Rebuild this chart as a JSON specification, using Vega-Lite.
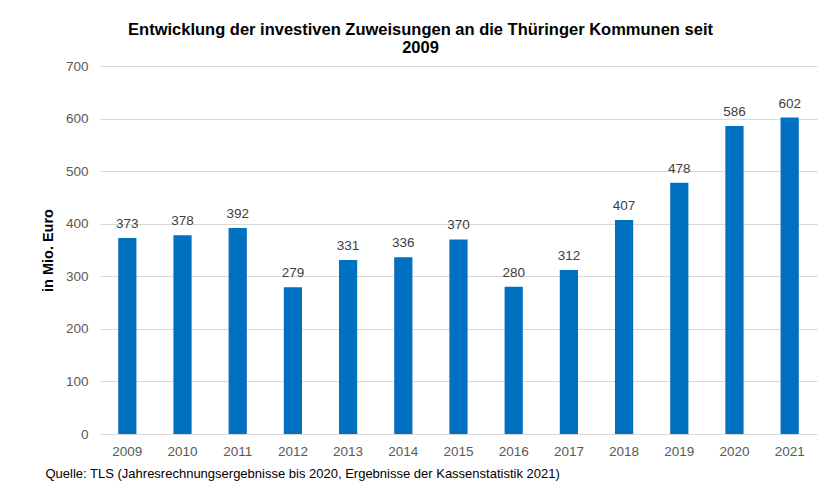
{
  "$schema": "https://vega.github.io/schema/vega-lite/v6.json",
  "autosize": "none",
  "width": 717,
  "height": 368,
  "padding": {"left": 100, "top": 66, "right": 9, "bottom": 57},
  "background": "white",
  "title": {
    "text": ["Entwicklung der investiven Zuweisungen an die Thüringer Kommunen seit", "2009"],
    "font": "Liberation Sans",
    "fontSize": 16.5,
    "fontWeight": "bold",
    "color": "#000000",
    "anchor": "middle",
    "frame": "group",
    "dx": -38,
    "offset": 3,
    "lineHeight": 18
  },
  "data": {
    "values": [
      {"Jahr": "2009", "Wert": 373},
      {"Jahr": "2010", "Wert": 378},
      {"Jahr": "2011", "Wert": 392},
      {"Jahr": "2012", "Wert": 279},
      {"Jahr": "2013", "Wert": 331},
      {"Jahr": "2014", "Wert": 336},
      {"Jahr": "2015", "Wert": 370},
      {"Jahr": "2016", "Wert": 280},
      {"Jahr": "2017", "Wert": 312},
      {"Jahr": "2018", "Wert": 407},
      {"Jahr": "2019", "Wert": 478},
      {"Jahr": "2020", "Wert": 586},
      {"Jahr": "2021", "Wert": 602}
    ]
  },
  "encoding": {
    "x": {
      "field": "Jahr",
      "type": "ordinal",
      "scale": {"paddingInner": 0.67, "paddingOuter": 0.33},
      "axis": {
        "title": "Quelle: TLS (Jahresrechnungsergebnisse bis 2020, Ergebnisse der Kassenstatistik 2021)",
        "titleFont": "Liberation Sans",
        "titleFontSize": 13,
        "titleFontWeight": "normal",
        "titleColor": "#000000",
        "titleAlign": "left",
        "titleAnchor": "start",
        "titleX": -55,
        "titleY": 33,
        "labelAngle": 0,
        "labelFont": "Liberation Sans",
        "labelFontSize": 13.5,
        "labelColor": "#595959",
        "labelPadding": 10,
        "ticks": false,
        "domain": false
      }
    },
    "y": {
      "field": "Wert",
      "type": "quantitative",
      "scale": {"domain": [0, 700]},
      "axis": {
        "title": "in Mio. Euro",
        "titleFont": "Liberation Sans",
        "titleFontSize": 14.5,
        "titleFontWeight": "bold",
        "titleColor": "#000000",
        "titlePadding": 10,
        "values": [0, 100, 200, 300, 400, 500, 600, 700],
        "labelFont": "Liberation Sans",
        "labelFontSize": 13.5,
        "labelColor": "#595959",
        "labelPadding": 12,
        "ticks": false,
        "domain": false,
        "gridColor": "#d9d9d9",
        "gridWidth": 1
      }
    }
  },
  "layer": [
    {"mark": {"type": "bar", "color": "#0070C0"}},
    {
      "mark": {"type": "text", "dy": -14, "font": "Liberation Sans", "fontSize": 13.5, "color": "#404040"},
      "encoding": {"text": {"field": "Wert", "type": "quantitative"}}
    }
  ],
  "config": {"view": {"stroke": null}}
}
